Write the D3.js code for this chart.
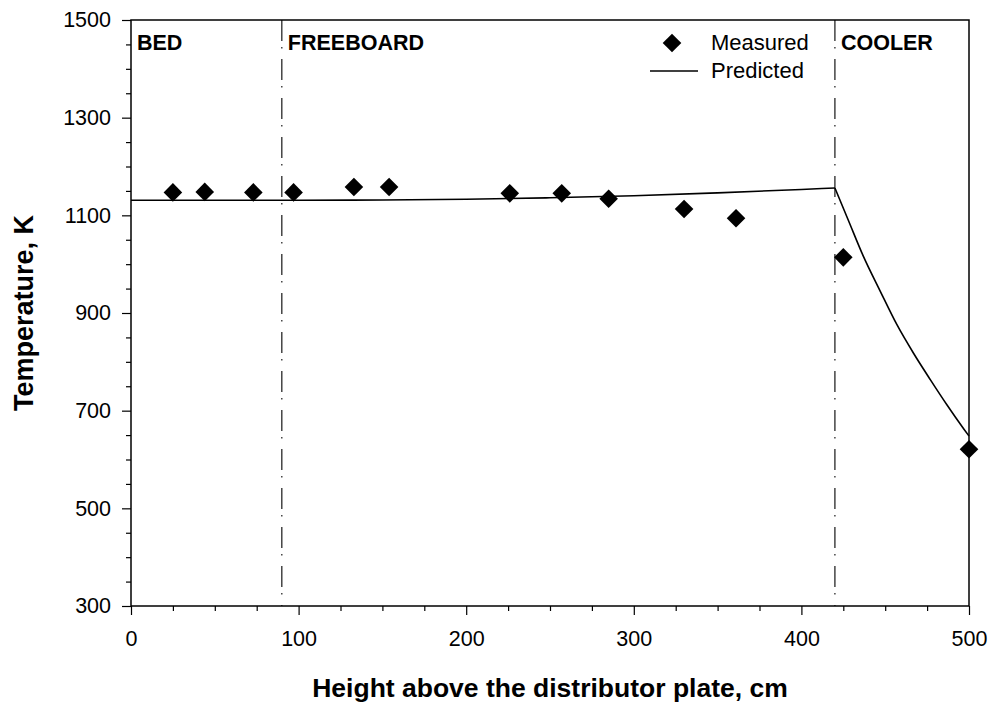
<!DOCTYPE html>
<html><head><meta charset="utf-8">
<script src="https://cdn.jsdelivr.net/npm/d3@7"></script>
<style>body{margin:0;background:#fff}svg{display:block;font-family:"Liberation Sans",Arial,sans-serif}</style>
</head><body><svg id="c" width="992" height="704"></svg>
<script>
const measuredX = [25, 44, 73, 97, 133, 154, 226, 257, 285, 330, 361, 425, 500];
const measuredY = [1147, 1148, 1147, 1147, 1158, 1158, 1145, 1145, 1134, 1113, 1094, 1014, 621];
const predictedX = [0, 50, 100, 150, 200, 250, 300, 350, 400, 420, 428, 437, 447, 457, 467, 477, 487, 497, 500];
const predictedY = [1131, 1131, 1131, 1131.5, 1133, 1136, 1140, 1146, 1153, 1156, 1090, 1016, 945, 876, 817, 763, 711, 662, 648];
const zoneBounds = [90, 420];
const zoneLabels = ["BED", "FREEBOARD", "COOLER"];
const zoneStarts = [0, 90, 420];
const xTicks = [0, 100, 200, 300, 400, 500];
const yTicks = [300, 500, 700, 900, 1100, 1300, 1500];

const svg = d3.select("#c");
const L = 131, R = 969, T = 20, B = 606;
const x = d3.scaleLinear().domain([0, 500]).range([L, R]);
const y = d3.scaleLinear().domain([300, 1500]).range([B, T]);
const FONT = "Liberation Sans, Arial, sans-serif";

// minor ticks
const xMinor = d3.range(0, 501, 25).filter(v => v % 100 !== 0);
const yMinor = d3.range(300, 1501, 50).filter(v => (v - 300) % 200 !== 0);
svg.append("g").attr("transform", `translate(0,${B})`)
  .call(d3.axisBottom(x).tickValues(xMinor).tickSize(5).tickFormat(""))
  .call(g => g.select(".domain").remove())
  .selectAll("line").attr("stroke-width", 1.2);
svg.append("g").attr("transform", `translate(${L},0)`)
  .call(d3.axisLeft(y).tickValues(yMinor).tickSize(5).tickFormat(""))
  .call(g => g.select(".domain").remove())
  .selectAll("line").attr("stroke-width", 1.2);

// major axes
const gx = svg.append("g").attr("transform", `translate(0,${B})`)
  .call(d3.axisBottom(x).tickValues(xTicks).tickSize(9).tickPadding(16).tickFormat(d3.format("d")));
gx.select(".domain").remove();
gx.selectAll("line").attr("stroke-width", 1.2);
gx.selectAll("text").attr("font-size", 21.5).attr("font-family", FONT).attr("fill", "#000");
const gy = svg.append("g").attr("transform", `translate(${L},0)`)
  .call(d3.axisLeft(y).tickValues(yTicks).tickSize(9).tickPadding(11).tickFormat(d3.format("d")));
gy.select(".domain").remove();
gy.selectAll("line").attr("stroke-width", 1.2);
gy.selectAll("text").attr("font-size", 21.5).attr("font-family", FONT).attr("fill", "#000");

// frame
svg.append("rect").attr("x", L).attr("y", T).attr("width", R - L).attr("height", B - T)
  .attr("fill", "none").attr("stroke", "#000").attr("stroke-width", 1.5);

// zone boundaries
svg.selectAll(".zb").data(zoneBounds).join("line")
  .attr("x1", d => x(d)).attr("x2", d => x(d)).attr("y1", T).attr("y2", B)
  .attr("stroke", "#000").attr("stroke-width", 1.1).attr("stroke-dasharray", "21,6,1.5,10.5");

// zone labels
svg.selectAll(".zl").data(zoneLabels).join("text")
  .attr("x", (d, i) => x(zoneStarts[i]) + 6).attr("y", 50)
  .attr("font-size", 21.5).attr("font-weight", "bold").text(d => d);

// predicted line (two smooth pieces joined at the cooler inlet)
const pts = predictedX.map((v, i) => [v, predictedY[i]]);
const line = d3.line().x(d => x(d[0])).y(d => y(d[1])).curve(d3.curveMonotoneX);
svg.append("path").datum(pts.filter(d => d[0] <= 420))
  .attr("d", line).attr("fill", "none").attr("stroke", "#000").attr("stroke-width", 1.6);
svg.append("path").datum(pts.filter(d => d[0] >= 420))
  .attr("d", line).attr("fill", "none").attr("stroke", "#000").attr("stroke-width", 1.6);

// diamonds
const dia = r => `M0,${-r}L${r},0L0,${r}L${-r},0Z`;
svg.selectAll(".m").data(measuredX.map((v, i) => [v, measuredY[i]])).join("path")
  .attr("d", dia(9.3)).attr("transform", d => `translate(${x(d[0])},${y(d[1])})`).attr("fill", "#000");

// legend
svg.append("path").attr("d", dia(9.3)).attr("transform", "translate(672,43)").attr("fill", "#000");
svg.append("text").attr("x", 711).attr("y", 50).attr("font-size", 22).text("Measured");
svg.append("line").attr("x1", 650).attr("x2", 698).attr("y1", 71).attr("y2", 71).attr("stroke", "#000").attr("stroke-width", 1.6);
svg.append("text").attr("x", 711).attr("y", 78).attr("font-size", 22).text("Predicted");

// titles
svg.append("text").attr("x", (L + R) / 2).attr("y", 697).attr("text-anchor", "middle")
  .attr("font-size", 26.5).attr("font-weight", "bold").text("Height above the distributor plate, cm");
svg.append("text").attr("transform", `translate(33,313) rotate(-90)`).attr("text-anchor", "middle")
  .attr("font-size", 27).attr("font-weight", "bold").text("Temperature, K");
</script></body></html>
